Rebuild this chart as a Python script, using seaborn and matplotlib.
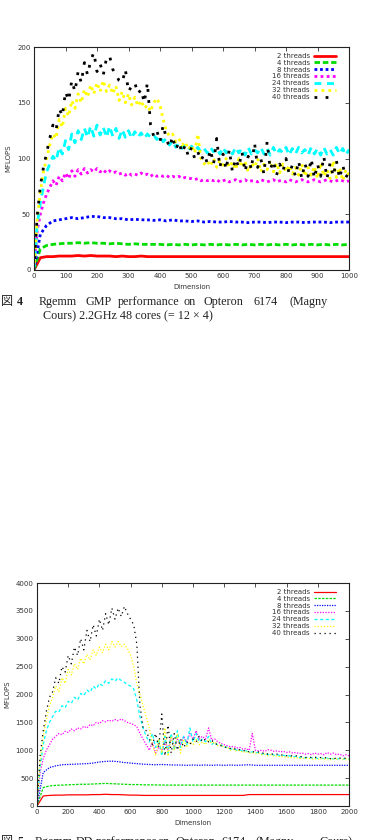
import matplotlib
matplotlib.use("Agg")
import matplotlib.pyplot as plt
import seaborn as sns

# ---------------- data: Rgemm GMP (fig 4), step 20 for flat series, step 10 for noisy ones
gmp_x20 = list(range(0, 1001, 20))
gmp_x10 = list(range(0, 1001, 10))

gmp_2 = [0, 11, 12, 12, 12.5, 12.5, 12.5, 13, 12.5, 13, 12.5, 12.5, 12.5, 12, 12.5, 12, 12, 12.5, 12, 12,
         12, 12, 12, 12, 12, 12, 12, 12, 12, 12, 12, 12, 12, 12, 12, 12, 12, 12, 12, 12,
         12, 12, 12, 12, 12, 12, 12, 12, 12, 12, 12]
gmp_4 = [0, 19, 22, 23, 23.5, 24, 24, 24.5, 24, 24.5, 24, 24, 23.5, 24, 23.5, 23, 23.5, 23, 23, 23,
         23, 22.5, 23, 22.5, 23, 22.5, 23, 22.5, 23, 22.5, 23, 22.5, 23, 22.5, 23, 22.5, 23, 22.5, 23, 22.5,
         23, 22.5, 23, 22.5, 23, 22.5, 23, 22.5, 23, 22.5, 23]
gmp_8 = [0, 32, 40, 44, 45, 46, 47, 46, 47, 48, 48, 47, 47, 46, 46, 45, 45.5, 45, 45, 44.5,
         45, 44, 45, 44, 44, 43.5, 44, 43, 43.5, 43, 43, 43.5, 43, 43, 42.5, 43, 43, 42.5, 43, 43,
         42.5, 43, 43, 42.5, 43, 43, 43, 42.5, 43, 43, 43]
gmp_16 = [0, 35, 50, 60, 68, 74, 80, 76, 84, 80, 87, 82, 89, 84, 90, 86, 91, 87, 90, 88,
          91, 88, 90, 87, 89, 87, 88, 86, 87, 85, 87, 85, 86, 85, 87, 85, 86, 84, 86, 84,
          85, 84, 85, 83, 84, 83, 84, 82, 83, 82, 82, 81, 82, 80, 81, 80, 81, 80, 81, 79,
          80, 81, 79, 80, 81, 79, 80, 81, 79, 80, 80, 79, 81, 80, 79, 80, 81, 79, 80, 80,
          79, 81, 80, 79, 80, 81, 80, 79, 80, 81, 80, 79, 80, 81, 80, 79, 80, 81, 80, 79, 80]
gmp_24 = [0, 40, 60, 75, 88, 95, 102, 98, 110, 104, 116, 108, 122, 114, 125, 117, 127, 119, 129, 120,
          130, 121, 128, 119, 129, 120, 127, 118, 126, 119, 125, 118, 124, 119, 123, 118, 122, 119, 121, 117,
          120, 115, 118, 112, 116, 110, 114, 109, 112, 108, 111, 107, 110, 106, 109, 105, 110, 106, 109, 104,
          110, 105, 108, 104, 110, 105, 109, 103, 110, 104, 108, 105, 110, 104, 109, 103, 110, 104, 108, 105,
          110, 103, 109, 104, 110, 105, 108, 103, 110, 104, 109, 103, 110, 104, 108, 103, 110, 104, 109, 103, 108]
gmp_32 = [0, 45, 70, 88, 100, 112, 122, 118, 135, 128, 145, 138, 152, 145, 158, 150, 162, 155, 166, 158,
          168, 160, 170, 160, 166, 158, 165, 152, 160, 150, 158, 148, 155, 147, 152, 145, 148, 142, 150, 154,
          148, 135, 125, 120, 122, 115, 118, 112, 115, 108, 112, 105, 122, 100, 95, 98, 93, 100, 92, 98,
          94, 100, 92, 97, 90, 100, 92, 98, 88, 96, 92, 100, 88, 95, 90, 98, 88, 96, 87, 95,
          88, 94, 86, 92, 85, 95, 84, 92, 85, 93, 82, 96, 84, 90, 82, 98, 83, 92, 80, 90, 85]
gmp_40 = [0, 48, 75, 92, 105, 118, 130, 125, 145, 138, 160, 152, 170, 160, 178, 168, 186, 175, 188, 195,
          178, 185, 175, 190, 192, 180, 175, 170, 168, 180, 160, 165, 168, 158, 162, 150, 168, 130, 120, 125,
          115, 130, 118, 110, 120, 108, 115, 105, 112, 102, 110, 100, 106, 98, 104, 96, 108, 95, 118, 92,
          104, 90, 108, 88, 100, 92, 106, 88, 102, 90, 114, 92, 100, 86, 115, 90, 98, 85, 95, 88,
          100, 86, 94, 84, 98, 82, 96, 84, 100, 82, 95, 84, 102, 82, 96, 84, 98, 82, 94, 83, 88]

# ---------------- data: Rgemm DD (fig 5), step 40 for flat series, step 20 for noisy ones
dd_x40 = list(range(0, 2001, 40))
dd_x20 = list(range(0, 2001, 20))

dd_2 = [0, 180, 190, 195, 195, 200, 200, 200, 200, 205, 205, 210, 205, 205, 200, 195, 195, 190, 190, 190,
        190, 190, 190, 190, 190, 190, 190, 190, 190, 190, 190, 190, 190, 190,
        205, 205, 205, 205, 205, 205, 205, 205, 205, 205, 205, 205, 205, 205, 205, 205, 205]
dd_4 = [0, 330, 360, 370, 375, 380, 385, 390, 390, 395, 400, 405, 400, 395, 390, 385, 385, 380, 380, 378, 376,
        375, 375, 375, 375, 375, 375, 375, 375, 375, 375, 375, 375, 375, 375, 375,
        375, 375, 375, 375, 375, 375, 375, 375, 375, 375, 375, 375, 375, 375, 375]
dd_8 = [0, 600, 690, 720, 740, 745, 750, 755, 760, 770, 790, 800, 805, 795, 780, 770, 760, 750, 745, 740, 745,
        740, 735, 735, 730, 735, 730, 735, 730, 735, 730, 735, 730, 735, 740,
        730, 730, 730, 730, 730, 730, 730, 730, 730, 730, 730, 730, 730, 730, 730, 730]
dd_16 = [0, 600, 850, 1000, 1100, 1200, 1250, 1300, 1280, 1340, 1320,
         1380, 1350, 1400, 1380, 1430, 1400, 1460, 1440, 1500, 1480,
         1530, 1510, 1540, 1520, 1550, 1530, 1560, 1530, 1500, 1480,
         1460, 1420, 1300, 1200, 1100, 1000, 1150, 950, 1050, 1000,
         1150, 1000, 1250, 1050, 1200, 1100, 1250, 1150, 1300, 1200,
         1350, 1200, 1250, 1200, 1400, 1180, 1200, 1150, 1120, 1100,
         1080, 1060, 1070, 1040, 1050, 1020, 1030, 1000, 1300, 1000,
         990, 1000, 980, 1010, 1000, 980, 990, 970, 980, 960,
         970, 950, 960, 940, 950, 930, 940, 920, 950, 930,
         940, 920, 960, 930, 950, 920, 930, 900, 920, 900]
dd_24 = [0, 700, 1100, 1350, 1500, 1600, 1700, 1680, 1800, 1760, 1880,
         1840, 1950, 1900, 2020, 1980, 2080, 2040, 2150, 2100, 2200,
         2160, 2250, 2200, 2280, 2240, 2300, 2250, 2220, 2180, 2150,
         2100, 1900, 1600, 1400, 1250, 1150, 1300, 1050, 1200, 900,
         1250, 950, 1300, 1000, 1350, 1050, 1250, 1100, 1400, 1150,
         1300, 1150, 1200, 1150, 1250, 1100, 1150, 1080, 1100, 1050,
         1060, 1020, 1030, 1000, 1010, 980, 990, 960, 970, 950,
         960, 930, 940, 920, 930, 910, 920, 900, 910, 890,
         900, 880, 890, 870, 880, 860, 870, 860, 870, 850,
         860, 850, 860, 840, 850, 840, 850, 840, 850, 840]
dd_32 = [0, 800, 1250, 1550, 1800, 1950, 2150, 2050, 2300, 2200, 2450,
         2350, 2550, 2450, 2650, 2550, 2720, 2620, 2800, 2700, 2850,
         2750, 2900, 2800, 2950, 2850, 2950, 2860, 2900, 2820, 2700,
         2500, 2200, 2000, 1800, 1600, 1400, 1100, 900, 1200, 950,
         1400, 900, 1250, 1000, 1300, 950, 1200, 1050, 1150, 1100,
         1200, 1100, 1150, 1100, 1200, 1120, 1150, 1080, 1100, 1050,
         1060, 1000, 1020, 980, 1000, 960, 980, 950, 960, 940,
         950, 920, 930, 900, 920, 890, 900, 880, 890, 870,
         880, 860, 870, 850, 860, 850, 860, 840, 850, 840,
         850, 840, 850, 830, 850, 840, 850, 840, 850, 840]
dd_40 = [0, 900, 1350, 1700, 1950, 2050, 2300, 2200, 2500, 2400, 2700,
         2550, 2850, 2700, 3000, 2800, 3150, 2950, 3250, 3050, 3350,
         3150, 3450, 3250, 3550, 3350, 3550, 3400, 3580, 3450, 3350,
         3250, 2900, 1800, 1400, 1350, 1200, 1100, 1300, 1050, 1650,
         900, 1450, 950, 1300, 1000, 1200, 1050, 1150, 1100, 1200,
         1150, 1250, 1150, 1200, 1150, 1180, 1120, 1100, 1080, 1050,
         1060, 1030, 1040, 1000, 1010, 990, 1000, 970, 980, 960,
         970, 940, 960, 930, 940, 920, 930, 910, 920, 900,
         910, 890, 900, 880, 890, 870, 880, 870, 880, 860,
         870, 860, 870, 850, 860, 850, 860, 850, 860, 850]

labels = ["2 threads", "4 threads", "8 threads", "16 threads", "24 threads", "32 threads", "40 threads"]
colors = ["#ff0000", "#00dd00", "#0000ff", "#ff00ff", "#00ffff", "#ffff00", "#000000"]
styles = ["-", (0, (2, 1)), (0, (1, 1)), (0, (1, 1.2)), (0, (2.5, 2)), (0, (1, 1.5)), (0, (1, 3))]

sns.set_style("white")
plt.rcParams["font.family"] = ["DejaVu Sans"]

fig = plt.figure(figsize=(3.71, 8.40), dpi=100)
W, H = 371.0, 840.0


def make_axes(rect, xs, ys, lw, xmax, xstep, ymax, ystep):
    ax = fig.add_axes(rect)
    for i in range(7):
        sns.lineplot(x=xs[i], y=ys[i], ax=ax, color=colors[i], ls=styles[i], lw=lw,
                     label=labels[i], estimator=None)
    ax.set_xlim(0, xmax)
    ax.set_ylim(0, ymax)
    ax.set_xticks(range(0, xmax + 1, xstep))
    ax.set_yticks(range(0, ymax + 1, ystep))
    ax.tick_params(direction="in", top=True, right=True, length=3, width=0.6,
                   labelsize=5, pad=2.5, colors="#333333")
    for s in ax.spines.values():
        s.set_linewidth(0.8)
        s.set_color("#222222")
    ax.set_xlabel("Dimension", fontsize=5, labelpad=3.5, color="#333333")
    ax.set_ylabel("MFLOPS", fontsize=5, labelpad=4, color="#333333")
    ax.legend(loc="upper right", bbox_to_anchor=(0.975, 0.995), frameon=False, fontsize=5,
              markerfirst=False, handlelength=3.2, handletextpad=0.6, labelspacing=0.12,
              borderpad=0.2, labelcolor="#333333")
    return ax


make_axes([34 / W, 1 - 270 / H, 315 / W, 223 / H],
          [gmp_x20, gmp_x20, gmp_x20, gmp_x10, gmp_x10, gmp_x10, gmp_x10],
          [gmp_2, gmp_4, gmp_8, gmp_16, gmp_24, gmp_32, gmp_40],
          2.0, 1000, 100, 200, 50)

make_axes([37 / W, 1 - 806 / H, 312 / W, 223 / H],
          [dd_x40, dd_x40, dd_x40, dd_x20, dd_x20, dd_x20, dd_x20],
          [dd_2, dd_4, dd_8, dd_16, dd_24, dd_32, dd_40],
          0.9, 2000, 200, 4000, 500)

# ---------------- captions (justified first line, words placed one by one)
cap = dict(fontsize=8.7, family=["Liberation Serif", "Noto Sans CJK JP"], color="#222222", va="center")
y1, y2, y3 = 1 - 302 / H, 1 - 316 / H, 1 - 842 / H
fig.text(1 / W, y1, "図", **cap)
fig.text(17 / W, y1, "4", fontweight="bold", **cap)
words = ["Rgemm", "GMP", "performance", "on", "Opteron", "6174", "(Magny"]
word_x = [39, 86, 118, 184, 204, 253, 289]
for w, wx in zip(words, word_x):
    fig.text(wx / W, y1, w, **cap)
fig.text(43 / W, y2, "Cours) 2.2GHz 48 cores (= 12 × 4)", **cap)

fig.text(1 / W, y3, "図", **cap)
fig.text(17 / W, y3, "5", fontweight="bold", **cap)
words5 = ["Rgemm", "DD", "performance", "on", "Opteron", "6174", "(Magny", "Cours)"]
word5_x = [35, 76, 96, 158, 175, 222, 255, 320]
for w, wx in zip(words5, word5_x):
    fig.text(wx / W, y3, w, **cap)

fig.savefig("out.png", dpi=100)
